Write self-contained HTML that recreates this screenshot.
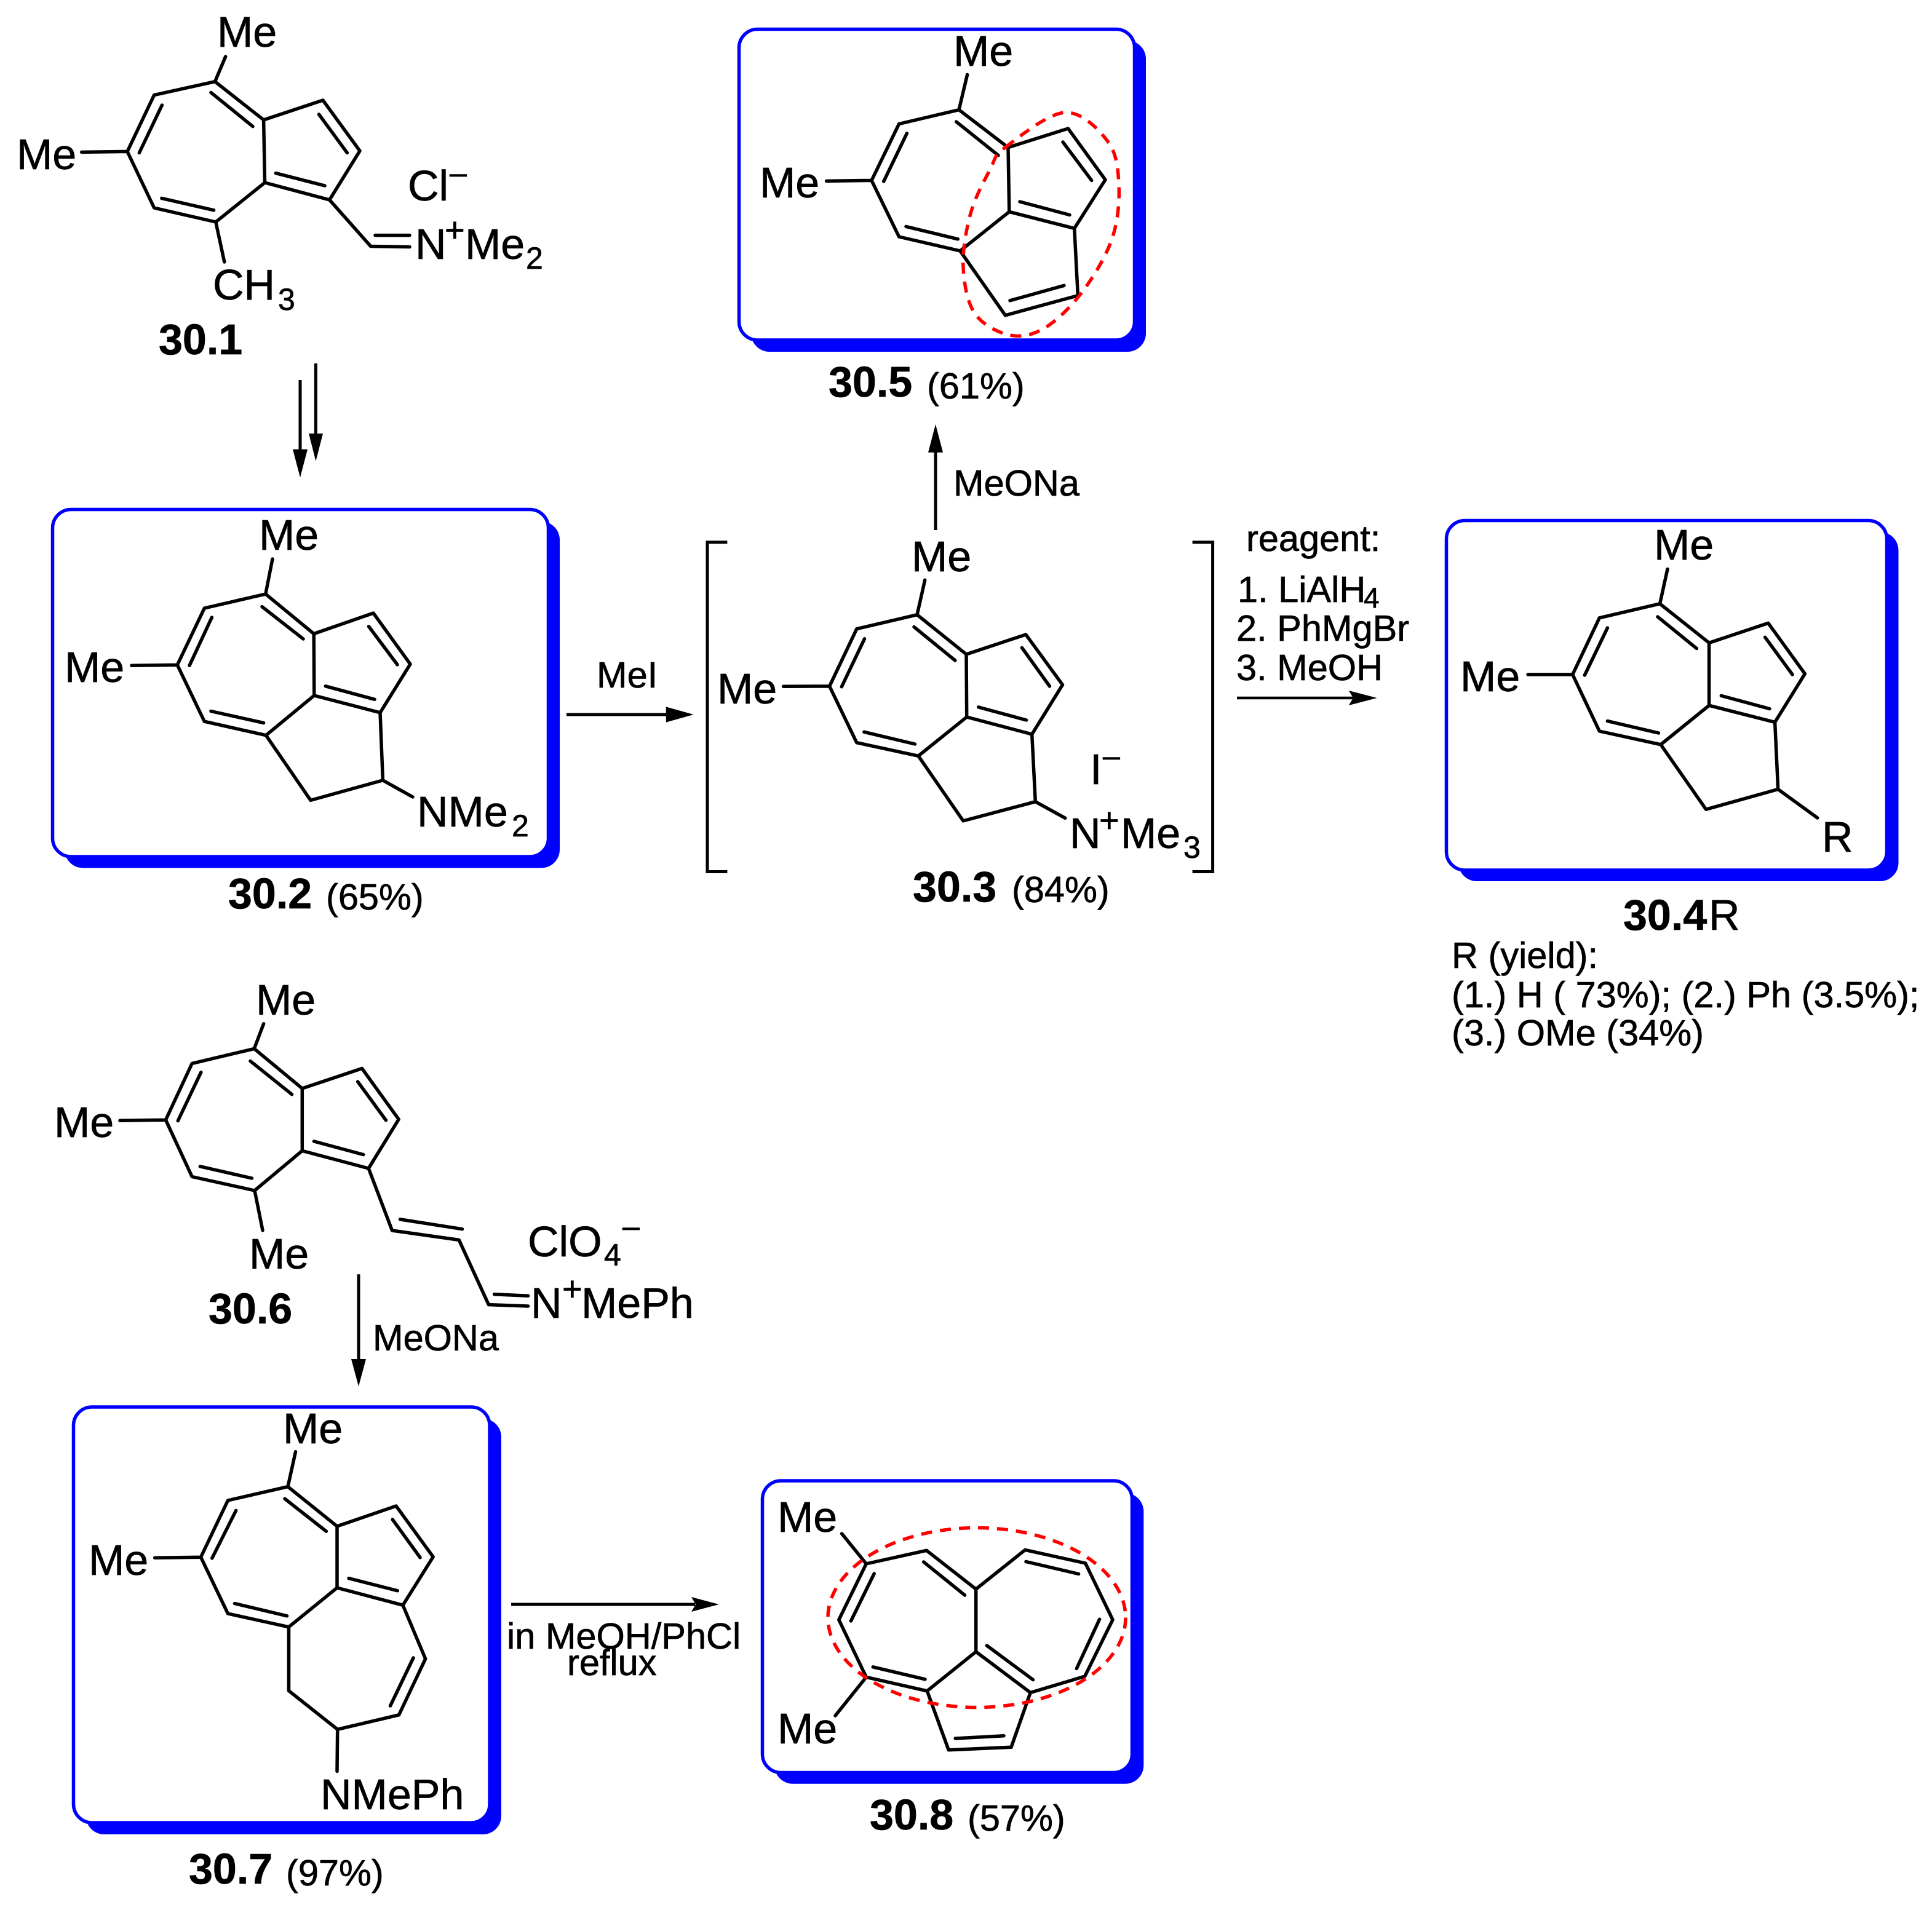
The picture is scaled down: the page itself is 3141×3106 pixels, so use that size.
<!DOCTYPE html>
<html><head><meta charset="utf-8"><style>
html,body{margin:0;padding:0;background:#fff}
svg{display:block}
text{font-family:"Liberation Sans",sans-serif;fill:#000;font-size:70px;stroke:#000;stroke-width:.7px}
.b{font-weight:bold}
.s{font-size:59.5px}
.u{font-size:50px}
.p{font-size:56px}
.k{fill:none;stroke:#000;stroke-width:5.5;stroke-linejoin:round;stroke-linecap:round}
.a{fill:none;stroke:#000;stroke-width:5}
.box{fill:#fff;stroke:#0000ff;stroke-width:5.5}
.sh{fill:#0000ff}
.red{fill:none;stroke:#ff0000;stroke-width:5.5;stroke-dasharray:18 13}
</style></head><body>
<svg xmlns="http://www.w3.org/2000/svg" width="3141" height="3106" viewBox="0 0 3141 3106">
<rect width="3141" height="3106" fill="#fff"/>

<!-- boxes -->
<rect class="sh" x="1221" y="66" width="642" height="506" rx="30"/>
<rect class="box" x="1201.5" y="47.5" width="643" height="505.5" rx="30"/>
<rect class="sh" x="105" y="848" width="805" height="563.5" rx="30"/>
<rect class="box" x="85.5" y="828.5" width="806" height="564.5" rx="30"/>
<rect class="sh" x="2371" y="865" width="715.5" height="568" rx="30"/>
<rect class="box" x="2351.5" y="846.5" width="716" height="568.5" rx="30"/>
<rect class="sh" x="139.5" y="2307" width="675.5" height="676" rx="30"/>
<rect class="box" x="119.5" y="2288" width="676.5" height="676" rx="30"/>
<rect class="sh" x="1259" y="2428" width="600.3" height="472.8" rx="30"/>
<rect class="box" x="1239.5" y="2408" width="601" height="474.5" rx="30"/>

<!-- 30.1 -->
<path class="k" d="M349.5 132.7L250.6 154.6L207 246.4L250.6 338L350.8 361L430.5 297L428.6 195L349.5 132.7M428.6 195L525 163L585 245.4L535.7 325L430.5 297M535.7 325L602.7 400.5L666 401.5M610 382.6L666 382.6M366.7 92L349.5 132.7M132.7 247.4L207 246.4M364.8 426L350.8 361M343 150.5L411 205.6M263.4 171L226.4 248.5M262.8 322.4L347.6 341.8M448.3 281.6L528 302M518.5 186L564.4 248.5"/>
<text x="353" y="76">Me</text>
<text x="27" y="275">Me</text>
<text x="663" y="326">Cl</text>
<text class="u" x="731" y="298">–</text>
<text x="675" y="421">N</text>
<text class="p" x="723" y="393">+</text>
<text x="756" y="421">Me</text>
<text class="u" x="855" y="437">2</text>
<text x="346" y="487">CH</text>
<text class="u" x="452" y="504">3</text>
<text class="b" x="258" y="576">30.1</text>
<path class="a" d="M513.4 591V715M488 618V742"/>
<polygon points="513.4,750 502,705 525,705"/>
<polygon points="488,776.5 476,730.6 500,730.6"/>

<!-- 30.2 -->
<path class="k" d="M431.8 966L332.3 989L288.3 1081.3L332.3 1173.2L432.4 1195.7L510.8 1131L510.2 1030.6L431.8 966M510.2 1030.6L607 997L667 1080L618 1158.9L510.8 1131M618 1158.9L622.4 1268.9L505 1301.4L432.4 1195.7M622.4 1268.9L671 1296M443 909L431.8 966M214 1082.3L288.3 1081.3M426 986.6L493 1039M344.4 1004L308 1082.3M343 1156.5L428.6 1175.6M529.3 1115.8L609 1137.3M599.5 1018.7L646 1080.9"/>
<text x="421" y="894">Me</text>
<text x="105" y="1109">Me</text>
<text x="678" y="1344">NMe</text>
<text class="u" x="832" y="1360">2</text>
<text class="b" x="371" y="1477">30.2</text>
<text class="s" x="530" y="1479">(65%)</text>

<!-- MeI arrow -->
<path class="a" d="M921 1162H1090"/>
<polygon points="1127.7,1162 1082.8,1149.4 1082.8,1174.6"/>
<text class="s" x="970" y="1118">MeI</text>

<!-- brackets -->
<path class="a" d="M1182.4 881.7H1150V1417.5H1182.4M1938.6 881.7H1971.6V1417.5H1938.6"/>

<!-- 30.3 -->
<path class="k" d="M1491 999.7L1392.8 1022.7L1348.6 1115.9L1392.8 1207.7L1493 1229.3L1571.7 1166L1571 1064L1491 999.7M1571 1064L1667.8 1031.9L1727.5 1113.6L1677.7 1194L1571.7 1166M1677.7 1194L1683.3 1303.7L1566 1334.9L1493 1229.3M1683.3 1303.7L1731.7 1330.3M1503.7 943.3L1491 999.7M1273.6 1116.3L1348.6 1115.9M1486 1019.5L1552.8 1074M1405.5 1038.8L1368.3 1116.8M1404.8 1190.3L1487.5 1210M1590.7 1149.9L1668.5 1171M1661.5 1053.4L1706.4 1115.9"/>
<text x="1482" y="929">Me</text>
<text x="1166" y="1144">Me</text>
<text x="1772" y="1275">I</text>
<text class="u" x="1793" y="1246">–</text>
<text x="1739" y="1379">N</text>
<text class="p" x="1787" y="1353">+</text>
<text x="1822" y="1379">Me</text>
<text class="u" x="1924" y="1395">3</text>
<text class="b" x="1484" y="1466">30.3</text>
<text class="s" x="1645" y="1467">(84%)</text>

<!-- MeONa up arrow -->
<path class="a" d="M1521 862V725"/>
<polygon points="1521,690 1509,735.7 1533,735.7"/>
<text class="s" x="1550" y="806">MeONa</text>

<!-- 30.5 -->
<path class="k" d="M1559 178.6L1461.6 201.5L1417 293.4L1461.6 385L1561 408L1640.8 344.4L1639 239.8L1559 178.6M1639 239.8L1736.5 209L1797 292.3L1746.7 371.4L1640.8 344.4M1746.7 371.4L1752.4 480.6L1634.4 512.8L1561 408M1572.6 121.4L1559 178.6M1343.6 294.4L1417 293.4M1554.7 198L1623 252.6M1474.4 216.8L1436.7 295M1473 368.4L1557.3 388.8M1658 328L1739 349.5M1728 231L1774.7 293.4M1642 488.8L1730 464.3"/>
<text x="1550" y="107">Me</text>
<text x="1235" y="321">Me</text>
<path class="red" d="M1634 240C1654.2 224.7 1703.2 184.7 1731 183C1758.8 181.3 1786.3 210.3 1801 230C1815.7 249.7 1817.8 274.7 1819 301C1820.2 327.3 1817.8 359.2 1808 388C1798.2 416.8 1778.2 449.8 1760 474C1741.8 498.2 1718.7 521.2 1699 533C1679.3 544.8 1661 548.8 1642 545C1623 541.2 1597.7 528.5 1585 510C1572.3 491.5 1567.2 461.2 1566 434C1564.8 406.8 1570.7 373.5 1578 347C1585.3 320.5 1600.7 292.8 1610 275C1619.3 257.2 1613.8 255.3 1634 240Z"/>
<text class="b" x="1347" y="645">30.5</text>
<text class="s" x="1507" y="648">(61%)</text>

<!-- reagent -->
<text class="s" x="2026" y="896">reagent:</text>
<text class="s" x="2012" y="979">1. LiAlH</text>
<text style="font-size:46px" x="2217" y="988">4</text>
<text class="s" x="2010" y="1042">2. PhMgBr</text>
<text class="s" x="2010" y="1106">3. MeOH</text>
<path class="a" d="M2011 1135H2200" style="stroke-width:4.5"/>
<polygon points="2238.7,1135 2192.8,1123 2200,1135 2192.8,1147"/>

<!-- 30.4R -->
<path class="k" d="M2698.6 981.8L2600.3 1004.8L2556.7 1096.9L2600.3 1189L2700 1210.8L2778.6 1147.2L2778.6 1045.4L2698.6 981.8M2778.6 1045.4L2874.7 1013.3L2934.4 1095.7L2885.6 1174.4L2778.6 1147.2M2885.6 1174.4L2890.7 1283.5L2773.6 1316.2L2700 1210.8M2890.7 1283.5L2954.7 1330M2711 925.4L2698.6 981.8M2484 1096.9L2556.7 1096.9M2695 1003L2758.3 1054.5M2613.4 1021L2576.3 1098M2613.4 1172.6L2696.4 1192M2798.3 1131.4L2877 1152.6M2869.6 1036.3L2914 1096.9"/>
<text x="2689" y="910">Me</text>
<text x="2374" y="1124">Me</text>
<text x="2962" y="1385">R</text>
<text class="b" x="2639" y="1512">30.4</text>
<text x="2778" y="1512">R</text>
<text class="s" x="2360" y="1574">R (yield):</text>
<text class="s" x="2360" y="1638">(1.) H ( 73%); (2.) Ph (3.5%);</text>
<text class="s" x="2360" y="1700">(3.) OMe (34%)</text>

<!-- 30.6 -->
<path class="k" d="M413.3 1705.4L312.2 1729.4L269.4 1821.2L312.2 1913.5L414 1936L491.3 1871.4L491.3 1770L413.3 1705.4M491.3 1770L588.5 1737.5L648.2 1820.2L599.2 1900L491.3 1871.4M599.2 1900L637.5 2001L746.2 2016.4L794.4 2121.6L858.6 2124M803.6 2104.8L858.6 2107.2M428.6 1664.8L413.3 1705.4M195 1822.2L269.4 1821.2M427 2000.7L414 1936M407 1725.5L474.5 1779.6M326.8 1743.7L289.3 1822.6M325.3 1896.8L409.4 1916M510.5 1856L590.8 1877.6M581.6 1759L627.5 1821.7M650.5 1982.9L751.5 1998.7"/>
<text x="416" y="1650">Me</text>
<text x="88" y="1849">Me</text>
<text x="405" y="2063">Me</text>
<text class="b" x="339" y="2152">30.6</text>
<text x="858" y="2043">ClO</text>
<text class="u" x="982" y="2058">4</text>
<text class="u" x="1012" y="2011">–</text>
<text x="863" y="2143">N</text>
<text class="p" x="914" y="2115">+</text>
<text x="945" y="2143">MePh</text>
<path class="a" d="M583 2072.3V2220"/>
<polygon points="583,2254.5 571,2210 595,2210"/>
<text class="s" x="606" y="2196">MeONa</text>

<!-- 30.7 -->
<path class="k" d="M468 2417.6L370.5 2440L326.5 2532.2L370.5 2624L469.5 2645.8L548 2582L548 2482L468 2417.6M548 2482L644 2449L704.2 2531.7L655 2610.3L548 2582M655 2610.3L691.7 2697.6L648.5 2788.8L548.7 2812.3L469.5 2749.5L469.5 2645.8M548.7 2812.3L548 2880.5M480.5 2360.8L468 2417.6M251.7 2533.3L326.5 2532.2M463 2437.2L530.4 2490.2M383.7 2456.4L344.8 2533.9M381.5 2607.6L466.6 2627.8M567 2566.6L646.3 2586.8M638.2 2471L683 2532.8M672 2696L634.5 2774"/>
<text x="460" y="2347">Me</text>
<text x="144" y="2561">Me</text>
<text x="521" y="2942">NMePh</text>
<text class="b" x="307" y="3063">30.7</text>
<text class="s" x="465" y="3066">(97%)</text>

<!-- reflux arrow -->
<path class="a" d="M831 2609H1130"/>
<polygon points="1169,2609 1124,2597 1131,2609 1124,2621"/>
<text class="s" x="824" y="2681">in MeOH/PhCl</text>
<text class="s" x="922" y="2724">reflux</text>

<!-- 30.8 -->
<path class="k" d="M1408.3 2543L1506.3 2521.3L1586.7 2584.2L1666.6 2520.4L1764.6 2542L1809 2634L1763.7 2726L1675.2 2752.5L1586.7 2686L1507.3 2749.8L1408.3 2727.3L1363.8 2634L1408.3 2543M1586.7 2584.2L1586.7 2686M1507.3 2749.8L1542.2 2845.7L1644 2841.3L1675.2 2752.5M1408.3 2543L1368.6 2494M1408.3 2727.3L1358 2790M1501.6 2540L1568.5 2594M1421.2 2559L1383.4 2636M1419.3 2710.8L1504 2730.8M1668 2539.5L1753.6 2559.5M1787.6 2633.2L1750.3 2713.4M1604.4 2676L1679.5 2731.6M1553.2 2827L1632 2822.7"/>
<text x="1264" y="2491">Me</text>
<text x="1264" y="2835">Me</text>
<ellipse class="red" cx="1588" cy="2630.5" rx="242" ry="146"/>
<text class="b" x="1414" y="2975">30.8</text>
<text class="s" x="1573" y="2977">(57%)</text>
</svg>
</body></html>
